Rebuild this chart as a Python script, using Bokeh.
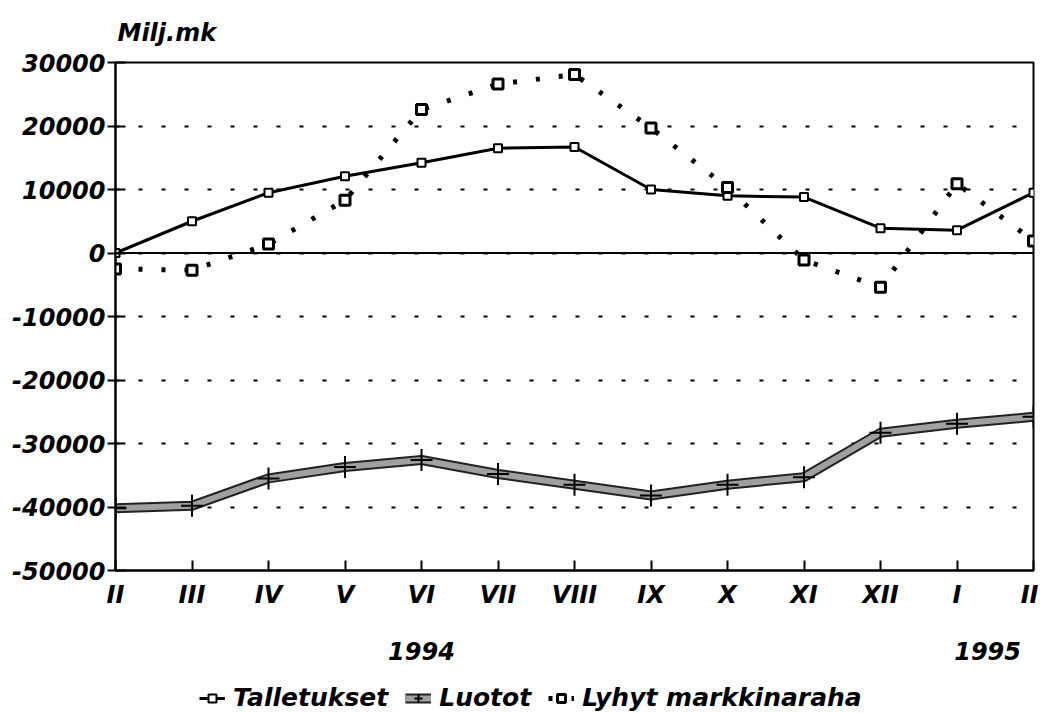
from bokeh.plotting import figure
from bokeh.models import FixedTicker, LinearAxis, Legend, LegendItem, Span, Range1d
from bokeh.layouts import column
from bokeh.embed import file_html
from bokeh.resources import INLINE

months = ["II", "III", "IV", "V", "VI", "VII", "VIII", "IX", "X", "XI", "XII", "I", "II"]
talletukset = [0, 5000, 9500, 12100, 14200, 16500, 16700, 10000, 9000, 8800, 3900, 3600, 9500]
luotot = [-40200, -39800, -35500, -33700, -32600, -34800, -36500, -38200, -36500, -35300, -28300, -26900, -25800]
lyhyt = [-2500, -2700, 1400, 8300, 22600, 26600, 28100, 19700, 10300, -1100, -5400, 10900, 1900]
y_ticks = [-50000, -40000, -30000, -20000, -10000, 0, 10000, 20000, 30000]
y_labels = ["-50000", "-40000", "-30000", "-20000", "-10000", "0", "10000", "20000", "30000"]
years = ["1994", "1995"]
year_pos = [4, 11.4]
series_names = ["Talletukset", "Luotot", "Lyhyt markkinaraha"]

FONT = "DejaVu Sans"
STYLE = "bold italic"
x = list(range(len(months)))

p = figure(frame_width=918, frame_height=508, output_backend="svg", toolbar_location=None,
           x_range=Range1d(0, 12), y_range=Range1d(-50000, 30000),
           min_border_left=115, min_border_right=5, min_border_top=62, min_border_bottom=110)
p.background_fill_color = "white"
p.border_fill_color = "white"
p.outline_line_color = "black"
p.outline_line_width = 2

# title
p.title.text = "Milj.mk"
p.title.text_font = FONT
p.title.text_font_style = STYLE
p.title.text_font_size = "24px"
p.title.text_color = "black"
p.title.align = "left"
p.title.vertical_align = "top"
p.title.standoff = 28
p.title.offset = 2

# axes
p.xaxis.ticker = FixedTicker(ticks=x)
p.xaxis.major_label_overrides = {i: m for i, m in enumerate(months)}
p.xaxis.major_tick_in = 10
p.xaxis.major_tick_out = 0
p.xaxis.major_tick_line_width = 2
p.xaxis.axis_line_width = 2
p.xaxis.minor_tick_line_color = None
p.xaxis.major_label_text_font = FONT
p.xaxis.major_label_text_font_style = STYLE
p.xaxis.major_label_text_font_size = "24px"
p.xaxis.major_label_text_color = "black"
p.xaxis.major_label_standoff = 10

p.yaxis.ticker = FixedTicker(ticks=y_ticks)
p.yaxis.major_label_overrides = {t: l for t, l in zip(y_ticks, y_labels)}
p.yaxis.major_tick_in = 10
p.yaxis.major_tick_out = 8
p.yaxis.major_tick_line_width = 2
p.yaxis.axis_line_width = 2
p.yaxis.minor_tick_line_color = None
p.yaxis.major_label_text_font = FONT
p.yaxis.major_label_text_font_style = STYLE
p.yaxis.major_label_text_font_size = "24px"
p.yaxis.major_label_text_color = "black"
p.yaxis.major_label_standoff = 2

year_axis = LinearAxis(ticker=FixedTicker(ticks=year_pos),
                       major_label_overrides={pos: y for pos, y in zip(year_pos, years)},
                       axis_line_color=None, major_tick_line_color=None, minor_tick_line_color=None,
                       major_label_text_font=FONT, major_label_text_font_style=STYLE,
                       major_label_text_font_size="24px", major_label_text_color="black",
                       major_label_standoff=24)
p.add_layout(year_axis, "below")

p.xgrid.grid_line_color = None
p.ygrid.grid_line_color = "black"
p.ygrid.grid_line_width = 2
p.ygrid.grid_line_dash = "4 19"

p.add_layout(Span(location=0, dimension="width", line_color="black", line_width=2))

# styles
t_line = dict(line_color="black", line_width=3)
t_mark = dict(marker="square", size=8, fill_color="white", line_color="black", line_width=2)
l_outer = dict(line_color="#222222", line_width=10)
l_inner = dict(line_color="#a0a0a0", line_width=6)
l_mark = dict(marker="cross", size=22, line_color="black", line_width=2)
s_line = dict(line_color="black", line_width=5, line_dash="4 19")
s_mark = dict(marker="square", size=10, fill_color="white", line_color="black", line_width=3)


def draw_series(fig):
    r = {}
    r["t"] = [fig.line(x, talletukset, **t_line), fig.scatter(x, talletukset, **t_mark)]
    r["l"] = [fig.line(x, luotot, **l_outer), fig.line(x, luotot, **l_inner),
              fig.scatter(x, luotot, **l_mark)]
    r["s"] = [fig.line(x, lyhyt, **s_line), fig.scatter(x, lyhyt, **s_mark)]
    return r


draw_series(p)

# legend strip below the chart (series drawn outside its visible range, used only as legend keys)
lg = figure(frame_width=1038, frame_height=33, output_backend="svg", toolbar_location=None,
            x_axis_type=None, y_axis_type=None,
            x_range=Range1d(0, 12), y_range=Range1d(100000, 200000),
            min_border_left=0, min_border_right=0, min_border_top=0, min_border_bottom=0)
lg.outline_line_color = None
lg.background_fill_color = "white"
lg.border_fill_color = "white"
lg.xgrid.grid_line_color = None
lg.ygrid.grid_line_color = None
keys = draw_series(lg)

legend = Legend(items=[
    LegendItem(label=series_names[0], renderers=keys["t"]),
    LegendItem(label=series_names[1], renderers=keys["l"]),
    LegendItem(label=series_names[2], renderers=keys["s"]),
], orientation="horizontal", location=(199, 1),
    label_text_font=FONT, label_text_font_style=STYLE, label_text_font_size="25px",
    label_text_color="black",
    border_line_color=None, background_fill_alpha=0, glyph_width=26, spacing=17,
    label_standoff=8, margin=0, padding=0)
lg.add_layout(legend)

layout = column(p, lg, spacing=0)
open("out.html", "w").write(file_html(layout, INLINE))
